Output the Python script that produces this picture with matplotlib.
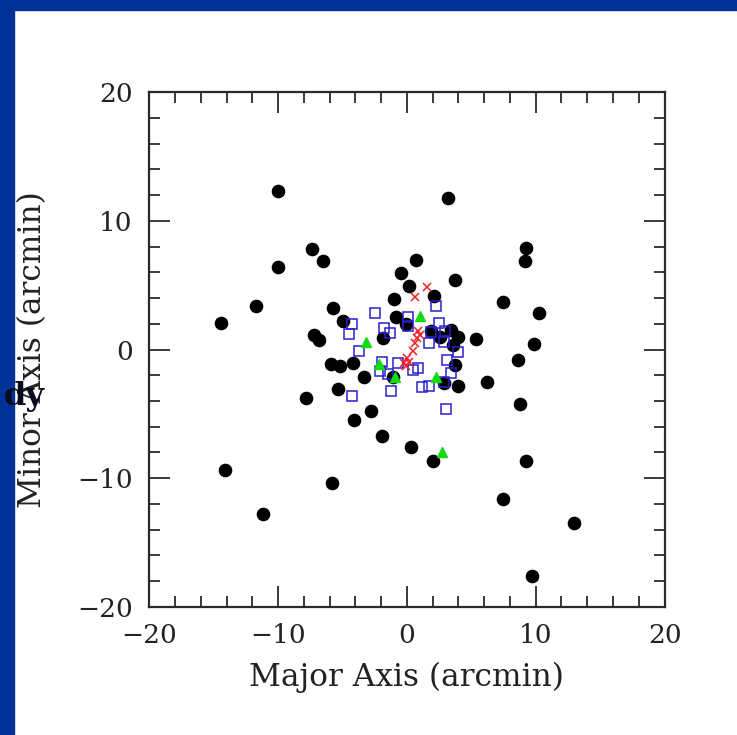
import matplotlib
matplotlib.use("Agg")
import matplotlib.pyplot as plt
from matplotlib.patches import Rectangle
from matplotlib.ticker import MultipleLocator

# pontos pretos (circulos cheios)
circ_x = [-10.0, 3.2, -7.4, -6.5, -10.0, 9.25, 9.2, 0.7, -0.45, 3.75, 0.2, 2.1, -1.0,
          7.45, 10.25, -11.7, -14.4, -5.7, -5.0, -0.85, -0.05, 1.9, 2.6, 3.45, 4.0,
          3.55, 5.35, 9.9, -7.2, -6.8, -1.85, -5.9, -5.2, -4.2, 3.7, 8.65, -3.35,
          -1.05, 6.2, 2.85, 3.95, -5.35, -7.8, 8.8, -2.8, -4.1, -1.95, 0.3, 2.05,
          9.25, -14.1, -5.8, 7.45, -11.2, 12.95, 9.7]
circ_y = [12.3, 11.8, 7.8, 6.85, 6.4, 7.9, 6.9, 6.95, 5.95, 5.4, 4.9, 4.15, 3.9,
          3.7, 2.85, 3.35, 2.05, 3.25, 2.2, 2.5, 2.0, 1.4, 1.0, 1.55, 0.95,
          0.35, 0.85, 0.45, 1.15, 0.75, 0.9, -1.1, -1.25, -1.05, -1.2, -0.8, -2.15,
          -2.1, -2.5, -2.6, -2.8, -3.1, -3.8, -4.25, -4.8, -5.45, -6.75, -7.6, -8.7,
          -8.7, -9.4, -10.4, -11.6, -12.8, -13.5, -17.6]

# quadrados azuis
sq_x = [2.25, -2.45, -4.25, -4.5, 0.05, -1.75, -1.3, 0.1, 2.5, 1.7, 2.85, 2.95, 1.9,
        3.95, 3.1, -3.7, -1.9, -0.7, 0.9, -2.1, -1.5, 0.5, 3.4, 2.85, 1.7, 1.15,
        -1.2, -4.25, 3.0]
sq_y = [3.4, 2.8, 2.0, 1.2, 2.5, 1.65, 1.3, 1.85, 2.05, 0.5, 0.6, 1.4, 1.35,
        -0.2, -0.8, -0.1, -0.95, -1.05, -1.4, -1.65, -1.9, -1.6, -1.8, -2.5, -2.8, -2.95,
        -3.2, -3.6, -4.6]

# triangulos verdes
tri_x = [1.0, -3.15, -2.2, -0.9, 2.25, 2.75]
tri_y = [2.6, 0.6, -1.15, -2.15, -2.1, -7.95]

# cruzes vermelhas
cross_x = [1.55, 0.65, 0.9, 1.0, 0.75, 0.65, 0.5, 0.0, 0.15, -0.25, -0.05]
cross_y = [4.85, 4.1, 1.45, 1.15, 0.9, 0.5, -0.15, -0.65, -0.95, -1.05, -1.3]

W, H = 737, 735
fig = plt.figure(figsize=(W / 100, H / 100), dpi=100)
fig.patch.set_facecolor("white")

# barras azuis do slide
azul = "#003399"
fig.patches.append(Rectangle((0, 1 - 10 / H), 1, 10 / H, transform=fig.transFigure,
                             color=azul, zorder=0))
fig.patches.append(Rectangle((0, 0), 14 / W, 1, transform=fig.transFigure,
                             color=azul, zorder=0))

ax = fig.add_axes([149.3 / W, (H - 606.7) / H, 515.2 / W, 514.4 / H])
ax.set_xlim(-20, 20)
ax.set_ylim(-20, 20)

ax.plot(circ_x, circ_y, "o", color="black", ms=8.8, zorder=2)
ax.plot(sq_x, sq_y, "s", mfc="none", mec="#2b1fd0", ms=6.8, mew=1.1, zorder=3)
ax.plot(tri_x, tri_y, "^", color="#11dd11", ms=6.5, zorder=4)
ax.plot(cross_x, cross_y, "x", color="#ee2222", ms=6, mew=1.1, zorder=5)

fonte = "DejaVu Serif"
cor = "#222222"
ax.xaxis.set_major_locator(MultipleLocator(10))
ax.yaxis.set_major_locator(MultipleLocator(10))
ax.xaxis.set_minor_locator(MultipleLocator(2))
ax.yaxis.set_minor_locator(MultipleLocator(2))
ax.tick_params(which="both", direction="in", top=True, right=True, color="#2a2a2a")
ax.tick_params(which="major", length=15, width=1.3, pad=12)
ax.tick_params(which="minor", length=8, width=1.3)
for s in ax.spines.values():
    s.set_linewidth(1.6)
    s.set_color("#2a2a2a")
for lab in ax.get_xticklabels() + ax.get_yticklabels():
    lab.set_fontfamily(fonte)
    lab.set_fontsize(19)
    lab.set_color(cor)

ax.set_xlabel("Major Axis (arcmin)", fontfamily=fonte, fontsize=22.5, color=cor)
ax.set_ylabel("Minor Axis (arcmin)", fontfamily=fonte, fontsize=22.5, color=cor)
ax.xaxis.set_label_coords(0.5, (606.7 - 662) / 514.4)
ax.yaxis.set_label_coords((48 - 149.3) / 515.2, 0.5)

# resto de um titulo cortado do slide
fig.text(45 / W, (H - 405) / H, "dy", ha="right", va="baseline",
         fontfamily="DejaVu Serif", fontweight="bold", fontsize=23, color="#0a0a1e")

fig.savefig("out.png", dpi=100)
